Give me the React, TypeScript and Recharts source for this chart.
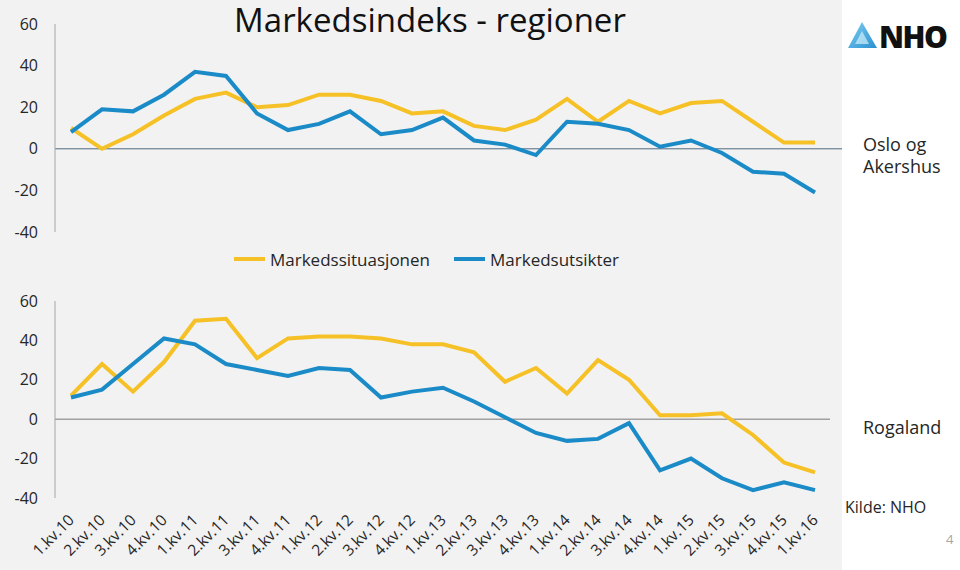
import React from 'react'
import {LineChart, Line, XAxis, YAxis, ReferenceLine, Legend} from 'recharts'

const quarters = [
  '1.kv.10', '2.kv.10', '3.kv.10', '4.kv.10',
  '1.kv.11', '2.kv.11', '3.kv.11', '4.kv.11',
  '1.kv.12', '2.kv.12', '3.kv.12', '4.kv.12',
  '1.kv.13', '2.kv.13', '3.kv.13', '4.kv.13',
  '1.kv.14', '2.kv.14', '3.kv.14', '4.kv.14',
  '1.kv.15', '2.kv.15', '3.kv.15', '4.kv.15',
  '1.kv.16',
]

// Oslo og Akershus
const osloSituasjon = [10, 0, 7, 16, 24, 27, 20, 21, 26, 26, 23, 17, 18, 11, 9, 14, 24, 13, 23, 17, 22, 23, 13, 3, 3]
const osloUtsikter = [8, 19, 18, 26, 37, 35, 17, 9, 12, 18, 7, 9, 15, 4, 2, -3, 13, 12, 9, 1, 4, -2, -11, -12, -21]

// Rogaland
const rogaSituasjon = [12, 28, 14, 29, 50, 51, 31, 41, 42, 42, 41, 38, 38, 34, 19, 26, 13, 30, 20, 2, 2, 3, -8, -22, -27]
const rogaUtsikter = [11, 15, 28, 41, 38, 28, 25, 22, 26, 25, 11, 14, 16, 9, 1, -7, -11, -10, -2, -26, -20, -30, -36, -32, -36]

const yTicks = [-40, -20, 0, 20, 40, 60]

const YELLOW = '#f6c126'
const BLUE = '#1b8bc8'
const FONT = '"Open Sans", "Noto Sans", sans-serif'

const osloData = quarters.map((q, i) => ({q, sit: osloSituasjon[i], uts: osloUtsikter[i]}))
const rogaData = quarters.map((q, i) => ({q, sit: rogaSituasjon[i], uts: rogaUtsikter[i]}))

const tickStyle = {fontSize: 16, fill: '#262626', fontFamily: FONT}

const QuarterTick = (props: any) => {
  const {x, y, payload} = props
  return (
    <g transform={`translate(${x + 4},${y + 21})`}>
      <text transform="rotate(-45)" textAnchor="end" fontSize={15.5} fill="#262626" fontFamily={FONT}>
        {payload.value}
      </text>
    </g>
  )
}

const LegendBox = (props: any) => {
  const items = props.payload || []
  return (
    <div style={{display: 'flex', height: 24, alignItems: 'center', fontFamily: FONT, fontSize: 17, color: '#262626'}}>
      {items.map((it: any) => (
        <div key={it.value} style={{display: 'flex', alignItems: 'center', marginRight: 24}}>
          <span style={{display: 'inline-block', width: 31, height: 4, background: it.color, marginRight: 5}} />
          {it.value}
        </div>
      ))}
    </div>
  )
}

const NhoLogo = () => (
  <svg width={114} height={44} style={{position: 'absolute', left: 846, top: 14}}>
    <defs>
      <linearGradient id="nhoGrad" x1="0" y1="0" x2="1" y2="1">
        <stop offset="0%" stopColor="#7fd0f2" />
        <stop offset="100%" stopColor="#2a8fd0" />
      </linearGradient>
    </defs>
    <polygon points="16,8 31,34 2,34" fill="url(#nhoGrad)" />
    <polygon points="16,17 23,30 9,30" fill="#cfeefb" opacity={0.7} />
    <text x={33} y={34} fontFamily={FONT} fontWeight={800} fontSize={30} fill="#111" letterSpacing={-1.5}>NHO</text>
  </svg>
)

export default function App() {
  return (
    <div style={{position: 'absolute', left: 0, top: 0, width: 960, height: 570, background: '#ffffff', overflow: 'hidden'}}>
      <div style={{position: 'absolute', left: 0, top: 0, width: 842, height: 570, background: '#f2f2f2'}} />

      <div style={{position: 'absolute', left: 0, top: 0}}>
        <LineChart width={842} height={280} data={osloData} margin={{top: 24, right: 0, left: 0, bottom: 24}}>
          <XAxis dataKey="q" hide padding={{left: 16, right: 27}} />
          <YAxis
            width={55}
            domain={[-40, 60]}
            ticks={yTicks}
            tickSize={0}
            tickMargin={17}
            tickLine={false}
            axisLine={{stroke: '#a6a6a6'}}
            tick={tickStyle}
          />
          <ReferenceLine y={0} stroke="#4d6a80" strokeWidth={1} />
          <Legend
            verticalAlign="bottom"
            content={<LegendBox />}
            wrapperStyle={{left: 234, top: 247, width: 'auto'}}
          />
          <Line dataKey="sit" name="Markedssituasjonen" stroke={YELLOW} strokeWidth={4} dot={false} isAnimationActive={false} />
          <Line dataKey="uts" name="Markedsutsikter" stroke={BLUE} strokeWidth={4} dot={false} isAnimationActive={false} />
        </LineChart>
      </div>

      <div style={{position: 'absolute', left: 0, top: 280}}>
        <LineChart width={830} height={288} data={rogaData} margin={{top: 21, right: 0, left: 0, bottom: 0}}>
          <XAxis
            dataKey="q"
            interval={0}
            height={70}
            axisLine={false}
            tickLine={false}
            tickSize={0}
            tick={<QuarterTick />}
            padding={{left: 16, right: 15}}
          />
          <YAxis
            width={55}
            domain={[-40, 60]}
            ticks={yTicks}
            tickSize={0}
            tickMargin={17}
            tickLine={false}
            axisLine={{stroke: '#a6a6a6'}}
            tick={tickStyle}
          />
          <ReferenceLine y={0} stroke="#a0a0a0" strokeWidth={1.5} />
          <Line dataKey="sit" name="Markedssituasjonen" stroke={YELLOW} strokeWidth={4} dot={false} isAnimationActive={false} />
          <Line dataKey="uts" name="Markedsutsikter" stroke={BLUE} strokeWidth={4} dot={false} isAnimationActive={false} />
        </LineChart>
      </div>

      <div style={{position: 'absolute', left: 0, width: 860, top: 0, height: 40, lineHeight: '40px', textAlign: 'center', fontFamily: FONT, fontSize: 33, color: '#111'}}>
        Markedsindeks - regioner
      </div>

      <NhoLogo />

      <div style={{position: 'absolute', left: 863, top: 133, fontFamily: FONT, fontSize: 18, lineHeight: '22px', color: '#262626'}}>
        Oslo og<br />Akershus
      </div>
      <div style={{position: 'absolute', left: 863, top: 415, fontFamily: FONT, fontSize: 18, color: '#262626'}}>
        Rogaland
      </div>
      <div style={{position: 'absolute', left: 845, top: 496, fontFamily: FONT, fontSize: 16, color: '#262626'}}>
        Kilde: NHO
      </div>
      <div style={{position: 'absolute', left: 946, top: 530, fontFamily: FONT, fontSize: 13, color: '#a6a6a6'}}>
        4
      </div>
    </div>
  )
}
